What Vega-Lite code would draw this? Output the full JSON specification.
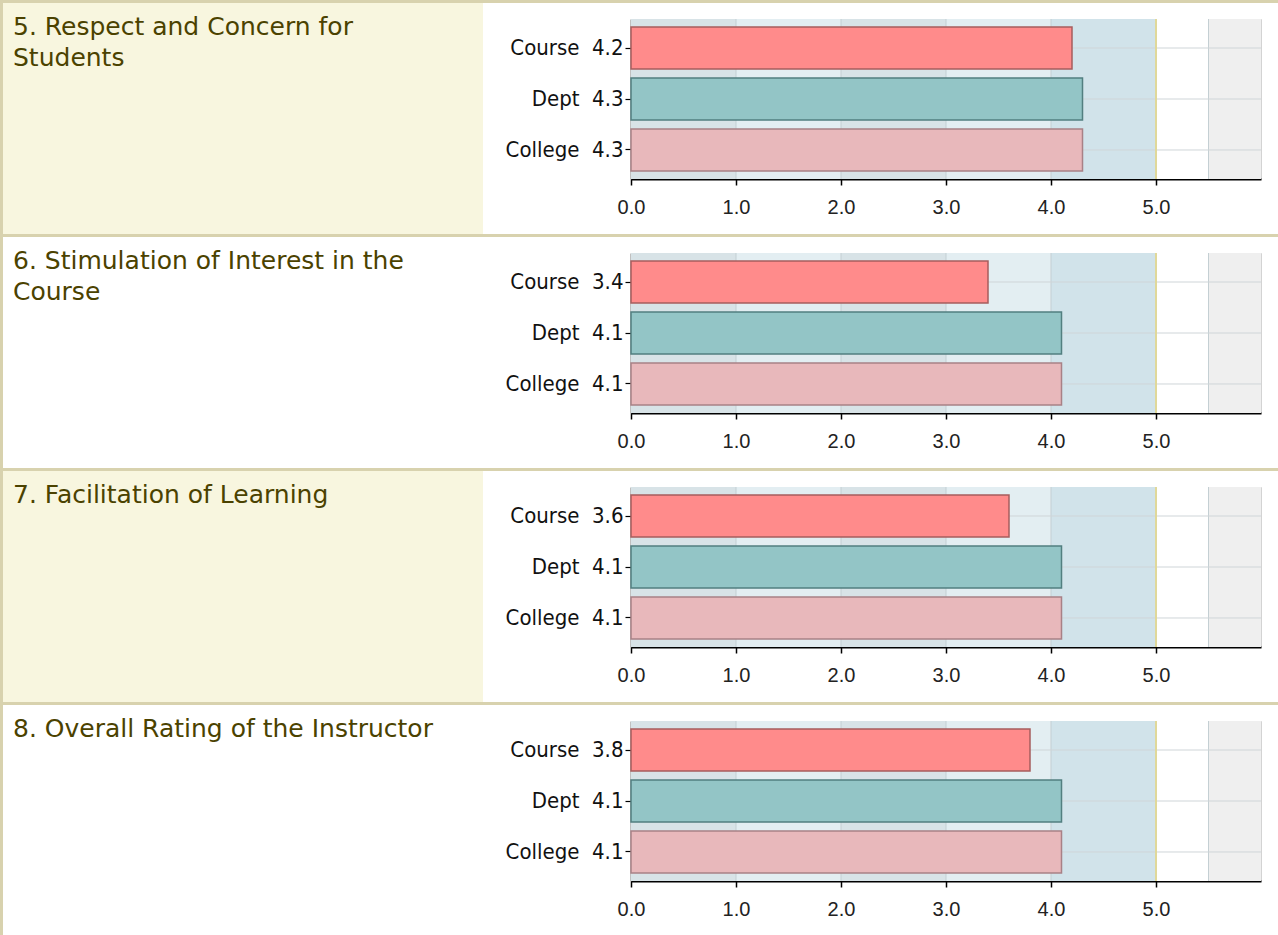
{
  "$schema": "https://vega.github.io/schema/vega-lite/v6.json",
  "background": "#ffffff",
  "padding": 0,
  "autosize": {"type": "pad"},
  "config": {"view": {"stroke": null}},
  "datasets": {
    "none": [],
    "zones": [
      {"value": 0, "end": 1, "zone": "band A"},
      {"value": 1, "end": 2, "zone": "band B"},
      {"value": 2, "end": 3, "zone": "band A"},
      {"value": 3, "end": 4, "zone": "band B"},
      {"value": 4, "end": 5, "zone": "target"},
      {"value": 5, "end": 5.5, "zone": "above"},
      {"value": 5.5, "end": 6, "zone": "outside"}
    ],
    "grid": [{"value": 1}, {"value": 2}, {"value": 3}, {"value": 4}, {"value": 5.5}],
    "goal": [{"value": 5}],
    "q5": [
      {"group": "Course", "value": 4.2, "label": "Course\u00a0 4.2"},
      {"group": "Dept", "value": 4.3, "label": "Dept\u00a0 4.3"},
      {"group": "College", "value": 4.3, "label": "College\u00a0 4.3"}
    ],
    "q6": [
      {"group": "Course", "value": 3.4, "label": "Course\u00a0 3.4"},
      {"group": "Dept", "value": 4.1, "label": "Dept\u00a0 4.1"},
      {"group": "College", "value": 4.1, "label": "College\u00a0 4.1"}
    ],
    "q7": [
      {"group": "Course", "value": 3.6, "label": "Course\u00a0 3.6"},
      {"group": "Dept", "value": 4.1, "label": "Dept\u00a0 4.1"},
      {"group": "College", "value": 4.1, "label": "College\u00a0 4.1"}
    ],
    "q8": [
      {"group": "Course", "value": 3.8, "label": "Course\u00a0 3.8"},
      {"group": "Dept", "value": 4.1, "label": "Dept\u00a0 4.1"},
      {"group": "College", "value": 4.1, "label": "College\u00a0 4.1"}
    ]
  },
  "columns": 5,
  "spacing": 0,
  "bounds": "flush",
  "align": "each",
  "concat": [
    {"width": 3, "height": 3, "view": {"fill": "#d8d2ae"}, "data": {"name": "none"}, "mark": "point"},
    {"width": 480, "height": 3, "view": {"fill": "#d8d2ae"}, "data": {"name": "none"}, "mark": "point"},
    {"width": 148, "height": 3, "view": {"fill": "#d8d2ae"}, "data": {"name": "none"}, "mark": "point"},
    {"width": 630, "height": 3, "view": {"fill": "#d8d2ae"}, "data": {"name": "none"}, "mark": "point"},
    {"width": 17, "height": 3, "view": {"fill": "#d8d2ae"}, "data": {"name": "none"}, "mark": "point"},

    {"width": 3, "height": 16, "view": {"fill": "#d8d2ae"}, "data": {"name": "none"}, "mark": "point"},
    {"width": 480, "height": 16, "view": {"fill": "#f8f6df"}, "data": {"name": "none"}, "mark": "point"},
    {"width": 1, "height": 1, "data": {"name": "none"}, "mark": "point"},
    {"width": 1, "height": 1, "data": {"name": "none"}, "mark": "point"},
    {"width": 1, "height": 1, "data": {"name": "none"}, "mark": "point"},

    {"width": 3, "height": 215, "view": {"fill": "#d8d2ae"}, "data": {"name": "none"}, "mark": "point"},
    {"width": 480, "height": 215, "view": {"fill": "#f8f6df"}, "data": {"name": "none"}, "mark": "point",
     "title": {"text": ["5. Respect and Concern for", "Students"], "orient": "top", "anchor": "start", "frame": "group", "offset": -52, "dx": 10, "baseline": "top", "font": "DejaVu Sans", "fontSize": 25, "fontWeight": "normal", "color": "#4b4200", "lineHeight": 31}},
    {"width": 1, "height": 1, "data": {"name": "none"}, "mark": "point"},
    {"width": 630, "height": 160, "view": {"stroke": "#d3d3d3"},
     "layer": [
       {"data": {"name": "zones"}, "mark": {"type": "rect"},
        "encoding": {
          "x": {"field": "value", "type": "quantitative", "scale": {"domain": [0, 6], "nice": false}, "axis": {"values": [0, 1, 2, 3, 4, 5], "format": ".1f", "title": null, "grid": false, "labelFlush": false, "labelOverlap": false, "domainColor": "#000000", "domainWidth": 2, "tickColor": "#000000", "tickWidth": 1.5, "tickSize": 6, "labelFont": "Liberation Sans", "labelFontSize": 20, "labelColor": "#222222", "labelPadding": 12}},
          "x2": {"field": "end"},
          "fill": {"field": "zone", "type": "nominal", "scale": {"domain": ["band A", "band B", "target", "above", "outside"], "range": ["#d8e3e7", "#e3eef2", "#d1e3ea", "#ffffff", "#efefef"]}, "legend": null}}},
       {"data": {"name": "grid"}, "mark": {"type": "rule", "color": "#c4cfd3", "strokeWidth": 1},
        "encoding": {"x": {"field": "value", "type": "quantitative", "scale": {"domain": [0, 6], "nice": false}, "axis": {"values": [0, 1, 2, 3, 4, 5], "format": ".1f", "title": null, "grid": false, "labelFlush": false, "labelOverlap": false, "domainColor": "#000000", "domainWidth": 2, "tickColor": "#000000", "tickWidth": 1.5, "tickSize": 6, "labelFont": "Liberation Sans", "labelFontSize": 20, "labelColor": "#222222", "labelPadding": 12}}}},
       {"data": {"name": "q5"}, "mark": {"type": "rule", "color": "#cfd5d8", "strokeWidth": 1},
        "encoding": {"y": {"field": "label", "type": "nominal", "sort": null, "scale": {"paddingInner": 0.176, "paddingOuter": 0.157}, "axis": {"title": null, "grid": false, "domainColor": "#000000", "domainWidth": 1.5, "tickColor": "#000000", "tickWidth": 1.2, "tickSize": 6, "labelFont": "'Liberation Sans Narrow', 'Arial Narrow', 'DejaVu Sans Condensed', 'Liberation Sans', sans-serif", "labelFontSize": 22, "labelColor": "#111111", "labelPadding": 2}}}},
       {"data": {"name": "goal"}, "mark": {"type": "rule", "color": "#e0d89a", "strokeWidth": 2},
        "encoding": {"x": {"field": "value", "type": "quantitative", "scale": {"domain": [0, 6], "nice": false}, "axis": {"values": [0, 1, 2, 3, 4, 5], "format": ".1f", "title": null, "grid": false, "labelFlush": false, "labelOverlap": false, "domainColor": "#000000", "domainWidth": 2, "tickColor": "#000000", "tickWidth": 1.5, "tickSize": 6, "labelFont": "Liberation Sans", "labelFontSize": 20, "labelColor": "#222222", "labelPadding": 12}}}},
       {"data": {"name": "q5"}, "mark": {"type": "bar", "strokeWidth": 1.5},
        "encoding": {
          "y": {"field": "label", "type": "nominal", "sort": null, "scale": {"paddingInner": 0.176, "paddingOuter": 0.157}, "axis": {"title": null, "grid": false, "domainColor": "#000000", "domainWidth": 1.5, "tickColor": "#000000", "tickWidth": 1.2, "tickSize": 6, "labelFont": "'Liberation Sans Narrow', 'Arial Narrow', 'DejaVu Sans Condensed', 'Liberation Sans', sans-serif", "labelFontSize": 22, "labelColor": "#111111", "labelPadding": 2}},
          "x": {"field": "value", "type": "quantitative", "scale": {"domain": [0, 6], "nice": false}, "axis": {"values": [0, 1, 2, 3, 4, 5], "format": ".1f", "title": null, "grid": false, "labelFlush": false, "labelOverlap": false, "domainColor": "#000000", "domainWidth": 2, "tickColor": "#000000", "tickWidth": 1.5, "tickSize": 6, "labelFont": "Liberation Sans", "labelFontSize": 20, "labelColor": "#222222", "labelPadding": 12}},
          "color": {"field": "group", "type": "nominal", "scale": {"domain": ["Course", "Dept", "College"], "range": ["#ff8b8b", "#93c5c6", "#e8b8bb"]}, "legend": null},
          "stroke": {"field": "group", "type": "nominal", "scale": {"domain": ["Course", "Dept", "College"], "range": ["#a65e5e", "#527f80", "#a88186"]}, "legend": null}}}
     ]},
    {"width": 1, "height": 1, "data": {"name": "none"}, "mark": "point"},

    {"width": 3, "height": 3, "view": {"fill": "#d8d2ae"}, "data": {"name": "none"}, "mark": "point"},
    {"width": 480, "height": 3, "view": {"fill": "#d8d2ae"}, "data": {"name": "none"}, "mark": "point"},
    {"width": 148, "height": 3, "view": {"fill": "#d8d2ae"}, "data": {"name": "none"}, "mark": "point"},
    {"width": 630, "height": 3, "view": {"fill": "#d8d2ae"}, "data": {"name": "none"}, "mark": "point"},
    {"width": 17, "height": 3, "view": {"fill": "#d8d2ae"}, "data": {"name": "none"}, "mark": "point"},

    {"width": 3, "height": 16, "view": {"fill": "#d8d2ae"}, "data": {"name": "none"}, "mark": "point"},
    {"width": 480, "height": 16, "view": {"fill": "#ffffff"}, "data": {"name": "none"}, "mark": "point"},
    {"width": 1, "height": 1, "data": {"name": "none"}, "mark": "point"},
    {"width": 1, "height": 1, "data": {"name": "none"}, "mark": "point"},
    {"width": 1, "height": 1, "data": {"name": "none"}, "mark": "point"},

    {"width": 3, "height": 215, "view": {"fill": "#d8d2ae"}, "data": {"name": "none"}, "mark": "point"},
    {"width": 480, "height": 215, "view": {"fill": "#ffffff"}, "data": {"name": "none"}, "mark": "point",
     "title": {"text": ["6. Stimulation of Interest in the", "Course"], "orient": "top", "anchor": "start", "frame": "group", "offset": -52, "dx": 10, "baseline": "top", "font": "DejaVu Sans", "fontSize": 25, "fontWeight": "normal", "color": "#4b4200", "lineHeight": 31}},
    {"width": 1, "height": 1, "data": {"name": "none"}, "mark": "point"},
    {"width": 630, "height": 160, "view": {"stroke": "#d3d3d3"},
     "layer": [
       {"data": {"name": "zones"}, "mark": {"type": "rect"},
        "encoding": {
          "x": {"field": "value", "type": "quantitative", "scale": {"domain": [0, 6], "nice": false}, "axis": {"values": [0, 1, 2, 3, 4, 5], "format": ".1f", "title": null, "grid": false, "labelFlush": false, "labelOverlap": false, "domainColor": "#000000", "domainWidth": 2, "tickColor": "#000000", "tickWidth": 1.5, "tickSize": 6, "labelFont": "Liberation Sans", "labelFontSize": 20, "labelColor": "#222222", "labelPadding": 12}},
          "x2": {"field": "end"},
          "fill": {"field": "zone", "type": "nominal", "scale": {"domain": ["band A", "band B", "target", "above", "outside"], "range": ["#d8e3e7", "#e3eef2", "#d1e3ea", "#ffffff", "#efefef"]}, "legend": null}}},
       {"data": {"name": "grid"}, "mark": {"type": "rule", "color": "#c4cfd3", "strokeWidth": 1},
        "encoding": {"x": {"field": "value", "type": "quantitative", "scale": {"domain": [0, 6], "nice": false}, "axis": {"values": [0, 1, 2, 3, 4, 5], "format": ".1f", "title": null, "grid": false, "labelFlush": false, "labelOverlap": false, "domainColor": "#000000", "domainWidth": 2, "tickColor": "#000000", "tickWidth": 1.5, "tickSize": 6, "labelFont": "Liberation Sans", "labelFontSize": 20, "labelColor": "#222222", "labelPadding": 12}}}},
       {"data": {"name": "q6"}, "mark": {"type": "rule", "color": "#cfd5d8", "strokeWidth": 1},
        "encoding": {"y": {"field": "label", "type": "nominal", "sort": null, "scale": {"paddingInner": 0.176, "paddingOuter": 0.157}, "axis": {"title": null, "grid": false, "domainColor": "#000000", "domainWidth": 1.5, "tickColor": "#000000", "tickWidth": 1.2, "tickSize": 6, "labelFont": "'Liberation Sans Narrow', 'Arial Narrow', 'DejaVu Sans Condensed', 'Liberation Sans', sans-serif", "labelFontSize": 22, "labelColor": "#111111", "labelPadding": 2}}}},
       {"data": {"name": "goal"}, "mark": {"type": "rule", "color": "#e0d89a", "strokeWidth": 2},
        "encoding": {"x": {"field": "value", "type": "quantitative", "scale": {"domain": [0, 6], "nice": false}, "axis": {"values": [0, 1, 2, 3, 4, 5], "format": ".1f", "title": null, "grid": false, "labelFlush": false, "labelOverlap": false, "domainColor": "#000000", "domainWidth": 2, "tickColor": "#000000", "tickWidth": 1.5, "tickSize": 6, "labelFont": "Liberation Sans", "labelFontSize": 20, "labelColor": "#222222", "labelPadding": 12}}}},
       {"data": {"name": "q6"}, "mark": {"type": "bar", "strokeWidth": 1.5},
        "encoding": {
          "y": {"field": "label", "type": "nominal", "sort": null, "scale": {"paddingInner": 0.176, "paddingOuter": 0.157}, "axis": {"title": null, "grid": false, "domainColor": "#000000", "domainWidth": 1.5, "tickColor": "#000000", "tickWidth": 1.2, "tickSize": 6, "labelFont": "'Liberation Sans Narrow', 'Arial Narrow', 'DejaVu Sans Condensed', 'Liberation Sans', sans-serif", "labelFontSize": 22, "labelColor": "#111111", "labelPadding": 2}},
          "x": {"field": "value", "type": "quantitative", "scale": {"domain": [0, 6], "nice": false}, "axis": {"values": [0, 1, 2, 3, 4, 5], "format": ".1f", "title": null, "grid": false, "labelFlush": false, "labelOverlap": false, "domainColor": "#000000", "domainWidth": 2, "tickColor": "#000000", "tickWidth": 1.5, "tickSize": 6, "labelFont": "Liberation Sans", "labelFontSize": 20, "labelColor": "#222222", "labelPadding": 12}},
          "color": {"field": "group", "type": "nominal", "scale": {"domain": ["Course", "Dept", "College"], "range": ["#ff8b8b", "#93c5c6", "#e8b8bb"]}, "legend": null},
          "stroke": {"field": "group", "type": "nominal", "scale": {"domain": ["Course", "Dept", "College"], "range": ["#a65e5e", "#527f80", "#a88186"]}, "legend": null}}}
     ]},
    {"width": 1, "height": 1, "data": {"name": "none"}, "mark": "point"},

    {"width": 3, "height": 3, "view": {"fill": "#d8d2ae"}, "data": {"name": "none"}, "mark": "point"},
    {"width": 480, "height": 3, "view": {"fill": "#d8d2ae"}, "data": {"name": "none"}, "mark": "point"},
    {"width": 148, "height": 3, "view": {"fill": "#d8d2ae"}, "data": {"name": "none"}, "mark": "point"},
    {"width": 630, "height": 3, "view": {"fill": "#d8d2ae"}, "data": {"name": "none"}, "mark": "point"},
    {"width": 17, "height": 3, "view": {"fill": "#d8d2ae"}, "data": {"name": "none"}, "mark": "point"},

    {"width": 3, "height": 16, "view": {"fill": "#d8d2ae"}, "data": {"name": "none"}, "mark": "point"},
    {"width": 480, "height": 16, "view": {"fill": "#f8f6df"}, "data": {"name": "none"}, "mark": "point"},
    {"width": 1, "height": 1, "data": {"name": "none"}, "mark": "point"},
    {"width": 1, "height": 1, "data": {"name": "none"}, "mark": "point"},
    {"width": 1, "height": 1, "data": {"name": "none"}, "mark": "point"},

    {"width": 3, "height": 215, "view": {"fill": "#d8d2ae"}, "data": {"name": "none"}, "mark": "point"},
    {"width": 480, "height": 215, "view": {"fill": "#f8f6df"}, "data": {"name": "none"}, "mark": "point",
     "title": {"text": ["7. Facilitation of Learning"], "orient": "top", "anchor": "start", "frame": "group", "offset": -21, "dx": 10, "baseline": "top", "font": "DejaVu Sans", "fontSize": 25, "fontWeight": "normal", "color": "#4b4200", "lineHeight": 31}},
    {"width": 1, "height": 1, "data": {"name": "none"}, "mark": "point"},
    {"width": 630, "height": 160, "view": {"stroke": "#d3d3d3"},
     "layer": [
       {"data": {"name": "zones"}, "mark": {"type": "rect"},
        "encoding": {
          "x": {"field": "value", "type": "quantitative", "scale": {"domain": [0, 6], "nice": false}, "axis": {"values": [0, 1, 2, 3, 4, 5], "format": ".1f", "title": null, "grid": false, "labelFlush": false, "labelOverlap": false, "domainColor": "#000000", "domainWidth": 2, "tickColor": "#000000", "tickWidth": 1.5, "tickSize": 6, "labelFont": "Liberation Sans", "labelFontSize": 20, "labelColor": "#222222", "labelPadding": 12}},
          "x2": {"field": "end"},
          "fill": {"field": "zone", "type": "nominal", "scale": {"domain": ["band A", "band B", "target", "above", "outside"], "range": ["#d8e3e7", "#e3eef2", "#d1e3ea", "#ffffff", "#efefef"]}, "legend": null}}},
       {"data": {"name": "grid"}, "mark": {"type": "rule", "color": "#c4cfd3", "strokeWidth": 1},
        "encoding": {"x": {"field": "value", "type": "quantitative", "scale": {"domain": [0, 6], "nice": false}, "axis": {"values": [0, 1, 2, 3, 4, 5], "format": ".1f", "title": null, "grid": false, "labelFlush": false, "labelOverlap": false, "domainColor": "#000000", "domainWidth": 2, "tickColor": "#000000", "tickWidth": 1.5, "tickSize": 6, "labelFont": "Liberation Sans", "labelFontSize": 20, "labelColor": "#222222", "labelPadding": 12}}}},
       {"data": {"name": "q7"}, "mark": {"type": "rule", "color": "#cfd5d8", "strokeWidth": 1},
        "encoding": {"y": {"field": "label", "type": "nominal", "sort": null, "scale": {"paddingInner": 0.176, "paddingOuter": 0.157}, "axis": {"title": null, "grid": false, "domainColor": "#000000", "domainWidth": 1.5, "tickColor": "#000000", "tickWidth": 1.2, "tickSize": 6, "labelFont": "'Liberation Sans Narrow', 'Arial Narrow', 'DejaVu Sans Condensed', 'Liberation Sans', sans-serif", "labelFontSize": 22, "labelColor": "#111111", "labelPadding": 2}}}},
       {"data": {"name": "goal"}, "mark": {"type": "rule", "color": "#e0d89a", "strokeWidth": 2},
        "encoding": {"x": {"field": "value", "type": "quantitative", "scale": {"domain": [0, 6], "nice": false}, "axis": {"values": [0, 1, 2, 3, 4, 5], "format": ".1f", "title": null, "grid": false, "labelFlush": false, "labelOverlap": false, "domainColor": "#000000", "domainWidth": 2, "tickColor": "#000000", "tickWidth": 1.5, "tickSize": 6, "labelFont": "Liberation Sans", "labelFontSize": 20, "labelColor": "#222222", "labelPadding": 12}}}},
       {"data": {"name": "q7"}, "mark": {"type": "bar", "strokeWidth": 1.5},
        "encoding": {
          "y": {"field": "label", "type": "nominal", "sort": null, "scale": {"paddingInner": 0.176, "paddingOuter": 0.157}, "axis": {"title": null, "grid": false, "domainColor": "#000000", "domainWidth": 1.5, "tickColor": "#000000", "tickWidth": 1.2, "tickSize": 6, "labelFont": "'Liberation Sans Narrow', 'Arial Narrow', 'DejaVu Sans Condensed', 'Liberation Sans', sans-serif", "labelFontSize": 22, "labelColor": "#111111", "labelPadding": 2}},
          "x": {"field": "value", "type": "quantitative", "scale": {"domain": [0, 6], "nice": false}, "axis": {"values": [0, 1, 2, 3, 4, 5], "format": ".1f", "title": null, "grid": false, "labelFlush": false, "labelOverlap": false, "domainColor": "#000000", "domainWidth": 2, "tickColor": "#000000", "tickWidth": 1.5, "tickSize": 6, "labelFont": "Liberation Sans", "labelFontSize": 20, "labelColor": "#222222", "labelPadding": 12}},
          "color": {"field": "group", "type": "nominal", "scale": {"domain": ["Course", "Dept", "College"], "range": ["#ff8b8b", "#93c5c6", "#e8b8bb"]}, "legend": null},
          "stroke": {"field": "group", "type": "nominal", "scale": {"domain": ["Course", "Dept", "College"], "range": ["#a65e5e", "#527f80", "#a88186"]}, "legend": null}}}
     ]},
    {"width": 1, "height": 1, "data": {"name": "none"}, "mark": "point"},

    {"width": 3, "height": 3, "view": {"fill": "#d8d2ae"}, "data": {"name": "none"}, "mark": "point"},
    {"width": 480, "height": 3, "view": {"fill": "#d8d2ae"}, "data": {"name": "none"}, "mark": "point"},
    {"width": 148, "height": 3, "view": {"fill": "#d8d2ae"}, "data": {"name": "none"}, "mark": "point"},
    {"width": 630, "height": 3, "view": {"fill": "#d8d2ae"}, "data": {"name": "none"}, "mark": "point"},
    {"width": 17, "height": 3, "view": {"fill": "#d8d2ae"}, "data": {"name": "none"}, "mark": "point"},

    {"width": 3, "height": 16, "view": {"fill": "#d8d2ae"}, "data": {"name": "none"}, "mark": "point"},
    {"width": 480, "height": 16, "view": {"fill": "#ffffff"}, "data": {"name": "none"}, "mark": "point"},
    {"width": 1, "height": 1, "data": {"name": "none"}, "mark": "point"},
    {"width": 1, "height": 1, "data": {"name": "none"}, "mark": "point"},
    {"width": 1, "height": 1, "data": {"name": "none"}, "mark": "point"},

    {"width": 3, "height": 214, "view": {"fill": "#d8d2ae"}, "data": {"name": "none"}, "mark": "point"},
    {"width": 480, "height": 214, "view": {"fill": "#ffffff"}, "data": {"name": "none"}, "mark": "point",
     "title": {"text": ["8. Overall Rating of the Instructor"], "orient": "top", "anchor": "start", "frame": "group", "offset": -21, "dx": 10, "baseline": "top", "font": "DejaVu Sans", "fontSize": 25, "fontWeight": "normal", "color": "#4b4200", "lineHeight": 31}},
    {"width": 1, "height": 1, "data": {"name": "none"}, "mark": "point"},
    {"width": 630, "height": 160, "view": {"stroke": "#d3d3d3"},
     "layer": [
       {"data": {"name": "zones"}, "mark": {"type": "rect"},
        "encoding": {
          "x": {"field": "value", "type": "quantitative", "scale": {"domain": [0, 6], "nice": false}, "axis": {"values": [0, 1, 2, 3, 4, 5], "format": ".1f", "title": null, "grid": false, "labelFlush": false, "labelOverlap": false, "domainColor": "#000000", "domainWidth": 2, "tickColor": "#000000", "tickWidth": 1.5, "tickSize": 6, "labelFont": "Liberation Sans", "labelFontSize": 20, "labelColor": "#222222", "labelPadding": 12}},
          "x2": {"field": "end"},
          "fill": {"field": "zone", "type": "nominal", "scale": {"domain": ["band A", "band B", "target", "above", "outside"], "range": ["#d8e3e7", "#e3eef2", "#d1e3ea", "#ffffff", "#efefef"]}, "legend": null}}},
       {"data": {"name": "grid"}, "mark": {"type": "rule", "color": "#c4cfd3", "strokeWidth": 1},
        "encoding": {"x": {"field": "value", "type": "quantitative", "scale": {"domain": [0, 6], "nice": false}, "axis": {"values": [0, 1, 2, 3, 4, 5], "format": ".1f", "title": null, "grid": false, "labelFlush": false, "labelOverlap": false, "domainColor": "#000000", "domainWidth": 2, "tickColor": "#000000", "tickWidth": 1.5, "tickSize": 6, "labelFont": "Liberation Sans", "labelFontSize": 20, "labelColor": "#222222", "labelPadding": 12}}}},
       {"data": {"name": "q8"}, "mark": {"type": "rule", "color": "#cfd5d8", "strokeWidth": 1},
        "encoding": {"y": {"field": "label", "type": "nominal", "sort": null, "scale": {"paddingInner": 0.176, "paddingOuter": 0.157}, "axis": {"title": null, "grid": false, "domainColor": "#000000", "domainWidth": 1.5, "tickColor": "#000000", "tickWidth": 1.2, "tickSize": 6, "labelFont": "'Liberation Sans Narrow', 'Arial Narrow', 'DejaVu Sans Condensed', 'Liberation Sans', sans-serif", "labelFontSize": 22, "labelColor": "#111111", "labelPadding": 2}}}},
       {"data": {"name": "goal"}, "mark": {"type": "rule", "color": "#e0d89a", "strokeWidth": 2},
        "encoding": {"x": {"field": "value", "type": "quantitative", "scale": {"domain": [0, 6], "nice": false}, "axis": {"values": [0, 1, 2, 3, 4, 5], "format": ".1f", "title": null, "grid": false, "labelFlush": false, "labelOverlap": false, "domainColor": "#000000", "domainWidth": 2, "tickColor": "#000000", "tickWidth": 1.5, "tickSize": 6, "labelFont": "Liberation Sans", "labelFontSize": 20, "labelColor": "#222222", "labelPadding": 12}}}},
       {"data": {"name": "q8"}, "mark": {"type": "bar", "strokeWidth": 1.5},
        "encoding": {
          "y": {"field": "label", "type": "nominal", "sort": null, "scale": {"paddingInner": 0.176, "paddingOuter": 0.157}, "axis": {"title": null, "grid": false, "domainColor": "#000000", "domainWidth": 1.5, "tickColor": "#000000", "tickWidth": 1.2, "tickSize": 6, "labelFont": "'Liberation Sans Narrow', 'Arial Narrow', 'DejaVu Sans Condensed', 'Liberation Sans', sans-serif", "labelFontSize": 22, "labelColor": "#111111", "labelPadding": 2}},
          "x": {"field": "value", "type": "quantitative", "scale": {"domain": [0, 6], "nice": false}, "axis": {"values": [0, 1, 2, 3, 4, 5], "format": ".1f", "title": null, "grid": false, "labelFlush": false, "labelOverlap": false, "domainColor": "#000000", "domainWidth": 2, "tickColor": "#000000", "tickWidth": 1.5, "tickSize": 6, "labelFont": "Liberation Sans", "labelFontSize": 20, "labelColor": "#222222", "labelPadding": 12}},
          "color": {"field": "group", "type": "nominal", "scale": {"domain": ["Course", "Dept", "College"], "range": ["#ff8b8b", "#93c5c6", "#e8b8bb"]}, "legend": null},
          "stroke": {"field": "group", "type": "nominal", "scale": {"domain": ["Course", "Dept", "College"], "range": ["#a65e5e", "#527f80", "#a88186"]}, "legend": null}}}
     ]},
    {"width": 1, "height": 1, "data": {"name": "none"}, "mark": "point"}
  ]
}
